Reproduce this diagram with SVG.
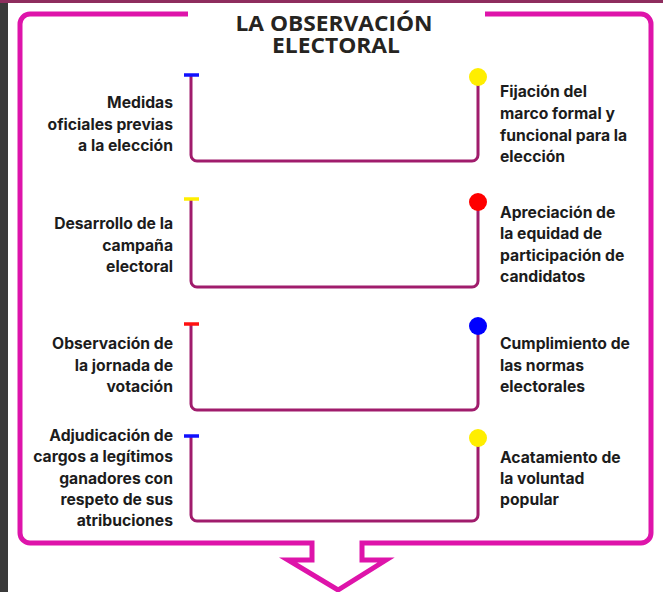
<svg xmlns="http://www.w3.org/2000/svg" width="663" height="592" viewBox="0 0 663 592">
<style>
.lbl{font-family:Inter,Roboto,"Liberation Sans",sans-serif;font-weight:700;font-size:15.7px;fill:#1c1c1c}
.l{text-anchor:end}
.title{font-family:"Open Sans","Liberation Sans",sans-serif;font-weight:700;font-size:22px;fill:#262421;text-anchor:middle}
.conn{fill:none;stroke:#a01c6c;stroke-width:3;stroke-linejoin:round}
.bar{stroke-width:3.5}
</style>
<rect x="0" y="0" width="663" height="592" fill="#ffffff"/>
<rect x="0" y="0" width="8" height="592" fill="#3a3a3a"/>
<rect x="0" y="0" width="663" height="3" fill="#8e2d5e"/>
<g id="frame">
<path d="M188 14 H30 A10 10 0 0 0 20 24 V533 A10 10 0 0 0 30 543 H312 V560 H288 L338 590 L386 560 H362 V543 H641 A10 10 0 0 0 651 533 V24 A10 10 0 0 0 641 14 H485" fill="none" stroke="#de14aa" stroke-width="5" stroke-linejoin="miter"/>
</g>
<g id="title">
<text class="title"><tspan x="334" y="31" textLength="197" lengthAdjust="spacingAndGlyphs">LA OBSERVACIÓN</tspan><tspan x="336" y="53" textLength="128" lengthAdjust="spacingAndGlyphs">ELECTORAL</tspan></text>
</g>
<g id="connectors">
<path class="conn" d="M191 75 V155 A6 6 0 0 0 197 161 H472 A6 6 0 0 0 478 155 V80"/>
<path class="conn" d="M191 199 V281 A6 6 0 0 0 197 287 H472 A6 6 0 0 0 478 281 V205"/>
<path class="conn" d="M191 324 V404 A6 6 0 0 0 197 410 H472 A6 6 0 0 0 478 404 V330"/>
<path class="conn" d="M191 436 V515 A6 6 0 0 0 197 521 H472 A6 6 0 0 0 478 515 V442"/>
</g>
<g id="node1">
<line class="bar" x1="184" y1="75" x2="199" y2="75" stroke="#1010ff"/>
<circle cx="478" cy="77" r="9" fill="#ffee00"/>
<text class="lbl l" x="173" y="108">Medidas</text>
<text class="lbl l" x="173" y="130">oficiales previas</text>
<text class="lbl l" x="173" y="151">a la elección</text>
<text class="lbl" x="500" y="97">Fijación del</text>
<text class="lbl" x="500" y="119">marco formal y</text>
<text class="lbl" x="500" y="141">funcional para la</text>
<text class="lbl" x="500" y="162">elección</text>
</g>
<g id="node2">
<line class="bar" x1="184" y1="199" x2="199" y2="199" stroke="#ffee00"/>
<circle cx="478" cy="202" r="9" fill="#ff0000"/>
<text class="lbl l" x="173" y="229">Desarrollo de la</text>
<text class="lbl l" x="173" y="251">campaña</text>
<text class="lbl l" x="173" y="272">electoral</text>
<text class="lbl" x="500" y="218">Apreciación de</text>
<text class="lbl" x="500" y="239">la equidad de</text>
<text class="lbl" x="500" y="261">participación de</text>
<text class="lbl" x="500" y="282">candidatos</text>
</g>
<g id="node3">
<line class="bar" x1="184" y1="324" x2="199" y2="324" stroke="#ff1010"/>
<circle cx="478" cy="326" r="9" fill="#0000ff"/>
<text class="lbl l" x="173" y="349">Observación de</text>
<text class="lbl l" x="173" y="371">la jornada de</text>
<text class="lbl l" x="173" y="392">votación</text>
<text class="lbl" x="500" y="349">Cumplimiento de</text>
<text class="lbl" x="500" y="371">las normas</text>
<text class="lbl" x="500" y="392">electorales</text>
</g>
<g id="node4">
<line class="bar" x1="184" y1="436" x2="199" y2="436" stroke="#1010ff"/>
<circle cx="478" cy="438" r="9" fill="#ffee00"/>
<text class="lbl l" x="173" y="441">Adjudicación de</text>
<text class="lbl l" x="173" y="462">cargos a legítimos</text>
<text class="lbl l" x="173" y="484">ganadores con</text>
<text class="lbl l" x="173" y="505">respeto de sus</text>
<text class="lbl l" x="173" y="526">atribuciones</text>
<text class="lbl" x="500" y="463">Acatamiento de</text>
<text class="lbl" x="500" y="484">la voluntad</text>
<text class="lbl" x="500" y="505">popular</text>
</g>
</svg>
